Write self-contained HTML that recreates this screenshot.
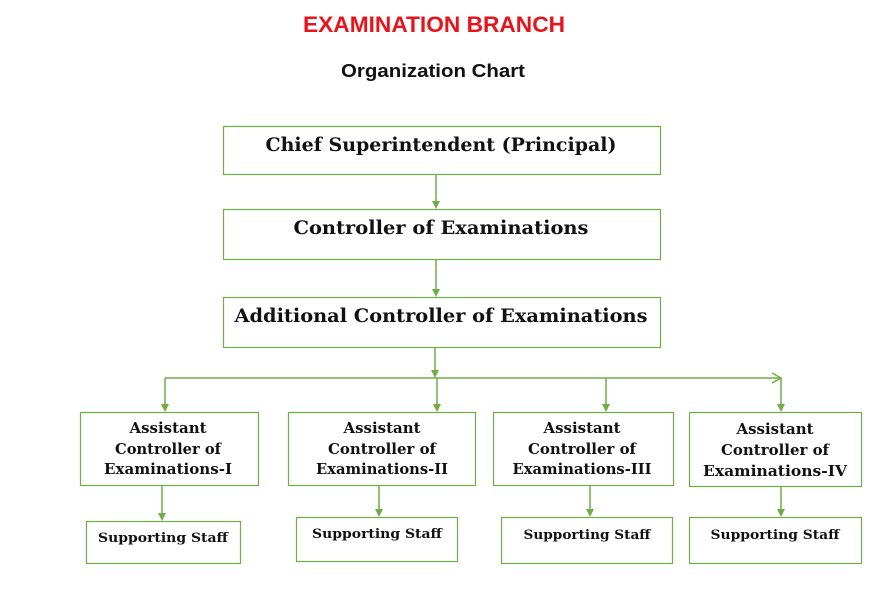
<!DOCTYPE html>
<html><head><meta charset="utf-8"><style>
html,body{margin:0;padding:0;background:#fff;width:875px;height:599px;overflow:hidden}
svg{display:block}
.s{font-family:"DejaVu Serif","Liberation Serif",serif;font-weight:bold;fill:#111;text-anchor:middle}
</style></head><body>
<svg width="875" height="599" viewBox="0 0 875 599" xmlns="http://www.w3.org/2000/svg">
<text x="434" y="32" text-anchor="middle" font-family="Liberation Sans,sans-serif" font-weight="bold" font-size="22" fill="#e8141b" textLength="262" lengthAdjust="spacingAndGlyphs">EXAMINATION BRANCH</text>
<text x="433" y="77" text-anchor="middle" font-family="Liberation Sans,sans-serif" font-weight="bold" font-size="18" fill="#111" textLength="184" lengthAdjust="spacingAndGlyphs">Organization Chart</text>
<g fill="none" stroke="#70ad47" stroke-width="1.2">
<rect x="223.5" y="126.5" width="437" height="48"/>
<rect x="223.5" y="209.5" width="437" height="50"/>
<rect x="223.5" y="297.5" width="437" height="50"/>
<rect x="80.5" y="412.5" width="178" height="73"/>
<rect x="288.5" y="412.5" width="187" height="73"/>
<rect x="493.5" y="412.5" width="180" height="73"/>
<rect x="689.5" y="412.5" width="172" height="74"/>
<rect x="86.5" y="521.5" width="154" height="42"/>
<rect x="296.5" y="517.5" width="161" height="44"/>
<rect x="501.5" y="517.5" width="171" height="46"/>
<rect x="689.5" y="517.5" width="172" height="46"/>
</g>
<g stroke="#70ad47" stroke-width="1.5" fill="none">
<path d="M436 174V202"/>
<path d="M436 259V290"/>
<path d="M435 347V371"/>
<path d="M165 378H781"/>
<path d="M772 373L781 378L772 383"/>
<path d="M165 378V405"/>
<path d="M437 378V405"/>
<path d="M606 378V405"/>
<path d="M781 378V405"/>
<path d="M162 485V514"/>
<path d="M379 485V510"/>
<path d="M590 485V510"/>
<path d="M781 486V510"/>
</g>
<g fill="#70ad47">
<path d="M432 201H440L436 209Z"/>
<path d="M432 289H440L436 297Z"/>
<path d="M431 370H439L435 378Z"/>
<path d="M161 404H169L165 412Z"/>
<path d="M433 404H441L437 412Z"/>
<path d="M602 404H610L606 412Z"/>
<path d="M777 404H785L781 412Z"/>
<path d="M158 513H166L162 521Z"/>
<path d="M375 509H383L379 517Z"/>
<path d="M586 509H594L590 517Z"/>
<path d="M777 509H785L781 517Z"/>
</g>
<text class="s" x="441" y="151" font-size="19" textLength="351" lengthAdjust="spacingAndGlyphs">Chief Superintendent (Principal)</text>
<text class="s" x="441" y="234" font-size="19" textLength="295" lengthAdjust="spacingAndGlyphs">Controller of Examinations</text>
<text class="s" x="441" y="322" font-size="19" textLength="413" lengthAdjust="spacingAndGlyphs">Additional Controller of Examinations</text>
<g font-size="14.5">
<text class="s" x="168" y="433" textLength="77" lengthAdjust="spacingAndGlyphs">Assistant</text><text class="s" x="168" y="454" textLength="106" lengthAdjust="spacingAndGlyphs">Controller of</text><text class="s" x="168" y="474" textLength="128" lengthAdjust="spacingAndGlyphs">Examinations-I</text>
<text class="s" x="382" y="433" textLength="77" lengthAdjust="spacingAndGlyphs">Assistant</text><text class="s" x="382" y="454" textLength="108" lengthAdjust="spacingAndGlyphs">Controller of</text><text class="s" x="382" y="474" textLength="132" lengthAdjust="spacingAndGlyphs">Examinations-II</text>
<text class="s" x="582" y="433" textLength="77" lengthAdjust="spacingAndGlyphs">Assistant</text><text class="s" x="582" y="454" textLength="108" lengthAdjust="spacingAndGlyphs">Controller of</text><text class="s" x="582" y="474" textLength="139" lengthAdjust="spacingAndGlyphs">Examinations-III</text>
<text class="s" x="775" y="434" textLength="77" lengthAdjust="spacingAndGlyphs">Assistant</text><text class="s" x="775" y="455" textLength="108" lengthAdjust="spacingAndGlyphs">Controller of</text><text class="s" x="775" y="476" textLength="144" lengthAdjust="spacingAndGlyphs">Examinations-IV</text>
</g>
<g font-size="13">
<text class="s" x="163" y="542" textLength="130" lengthAdjust="spacingAndGlyphs">Supporting Staff</text>
<text class="s" x="377" y="538" textLength="130" lengthAdjust="spacingAndGlyphs">Supporting Staff</text>
<text class="s" x="587" y="539" textLength="127" lengthAdjust="spacingAndGlyphs">Supporting Staff</text>
<text class="s" x="775" y="539" textLength="129" lengthAdjust="spacingAndGlyphs">Supporting Staff</text>
</g>
</svg>
</body></html>
